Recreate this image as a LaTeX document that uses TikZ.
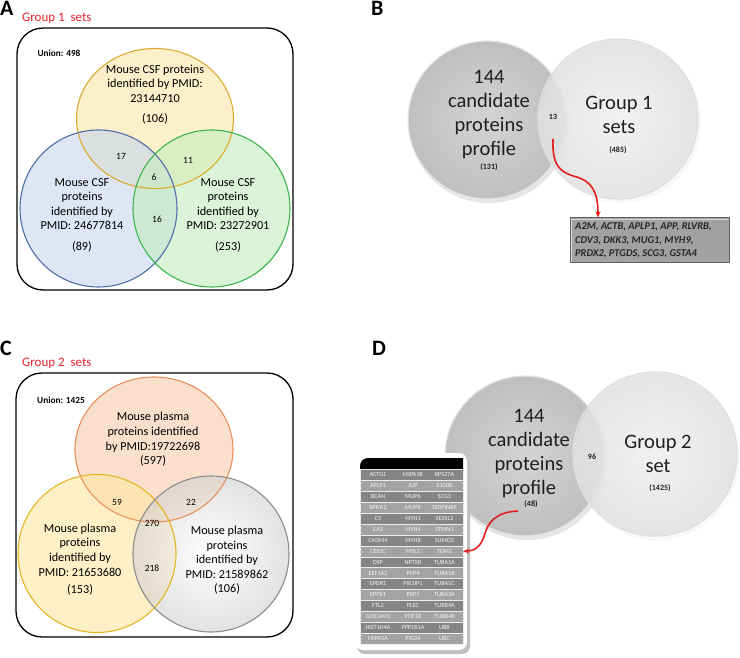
\documentclass[tikz,border=0pt]{standalone}
\usepackage{fontspec}
\setmainfont{Carlito}
\usetikzlibrary{arrows.meta}
\definecolor{lblred}{HTML}{E5222B}
\definecolor{arrred}{HTML}{E0201C}
\definecolor{yelF}{HTML}{FBE6A8}
\definecolor{yelD}{HTML}{DDAA30}
\definecolor{bluF}{HTML}{C8D5EE}
\definecolor{bluD}{HTML}{4F6FA8}
\definecolor{grnF}{HTML}{C3EDBF}
\definecolor{grnD}{HTML}{3BB54A}
\definecolor{orgF}{HTML}{F9CBAD}
\definecolor{orgD}{HTML}{E8905A}
\definecolor{ye2F}{HTML}{FDE7A0}
\definecolor{ye2D}{HTML}{E6B422}
\definecolor{gryF}{HTML}{D0D0D0}
\definecolor{gryD}{HTML}{8C8C8C}
\begin{document}
\begin{tikzpicture}[x=1pt,y=-1pt,
  panel/.style={font=\fontsize{22}{24}\selectfont\bfseries,inner sep=0pt,anchor=base west},
  grplbl/.style={font=\fontsize{13}{15}\selectfont,text=lblred,inner sep=0pt,anchor=base west},
  union/.style={font=\fontsize{9.3}{11}\selectfont\bfseries,inner sep=0pt},
  ctext/.style={align=center,font=\fontsize{12.2}{14.6}\selectfont,inner sep=0pt},
  num/.style={font=\fontsize{9.5}{11}\selectfont,inner sep=0pt},
  big/.style={align=center,font=\fontsize{20.5}{24}\selectfont,inner sep=0pt,text=black!88},
  small/.style={font=\fontsize{8}{9}\selectfont\bfseries,inner sep=0pt,text=black!88},
  frame/.style={draw=black,line width=1.3pt,rounded corners=26pt},
  vfill/.style={fill opacity=0.6},
  vline/.style={line width=1.1pt},
  redarrow/.style={draw=arrred,line width=1.6pt,-{Stealth[length=6pt,width=5pt]}},
  genebox/.style={fill=black!37,draw=black!62,line width=1pt,minimum width=159pt,minimum height=45pt,inner sep=0pt},
  genetext/.style={align=left,font=\fontsize{10.4}{13.4}\selectfont\bfseries\itshape,text=black!85,inner sep=0pt},
  rowbox/.style={minimum width=103pt,minimum height=10.9pt,inner sep=0pt,draw=white!85!gray,line width=0.3pt},
  cell/.style={font=\fontsize{6.2}{7}\selectfont,text=white!92!gray,inner sep=0pt}
]
\useasboundingbox[fill=white] (0,0) rectangle (740,658);

% ---------------- Panel A ----------------
\node[panel] (lblA) at (0,16) {A};
\node[grplbl] (g1) at (22,22) {Group 1\ \ sets};
\draw[frame] (17,28) rectangle (293,290);
\node[union] (unA) at (59,53) {Union: 498};
\fill[yelF,vfill] (155,118.5) ellipse [x radius=78.5pt, y radius=70pt];
\fill[bluF,vfill] (98.5,208.5) circle [radius=78.5pt];
\fill[grnF,vfill] (211.5,208.5) circle [radius=78.5pt];
\draw[yelD,vline] (155,118.5) ellipse [x radius=78.5pt, y radius=70pt];
\draw[bluD,vline] (98.5,208.5) circle [radius=78.5pt];
\draw[grnD,vline] (211.5,208.5) circle [radius=78.5pt];
\node[ctext] (a1) at (155,83.5) {Mouse CSF proteins\\identified by PMID:\\23144710};
\node[ctext] (a1n) at (155,119) {(106)};
\node[ctext] (a2) at (82,204) {Mouse CSF\\proteins\\identified by\\PMID: 24677814};
\node[ctext] (a2n) at (82,247) {(89)};
\node[ctext] (a3) at (228,204) {Mouse CSF\\proteins\\identified by\\PMID: 23272901};
\node[ctext] (a3n) at (228,247) {(253)};
\node[num] (a12) at (121,156) {17};
\node[num] (a13) at (188,160) {11};
\node[num] (a123) at (154,177) {6};
\node[num] (a23) at (157,219) {16};

% ---------------- Panel B ----------------
\node[panel] (lblB) at (371,16) {B};
\fill[black!10] (489,123) circle [radius=80pt];
\shade[inner color=black!17, outer color=black!25] (487,120) circle [radius=79pt];
\draw[white!80!gray,line width=1.2pt] (487,120) circle [radius=79pt];
\fill[black!5,opacity=0.5] (620,122) circle [radius=81pt];
\shade[inner color=black!6, outer color=black!13,opacity=0.72] (618,119) circle [radius=80pt];
\draw[white!75!gray,line width=1.2pt] (618,119) circle [radius=80pt];
\node[big] (b1) at (489,114.5) {144\\candidate\\proteins\\profile};
\node[small] (b1n) at (489,167) {(131)};
\node[big] (b2) at (619,114.5) {Group 1\\sets};
\node[small] (b2n) at (618,150) {(485)};
\node[small] (b12) at (553,117) {13};
\node[genebox] (genes) at (649.5,240.5) {};
\draw[white!70!gray,line width=1pt] (571.5,262) -- (571.5,219.5) -- (728,219.5);
\node[genetext,anchor=west] (genest) at (575,240.5) {A2M, ACTB, APLP1, APP, RLVRB,\\CDV3, DKK3, MUG1, MYH9,\\PRDX2, PTGDS, SCG3, GSTA4};
\coordinate (btail) at (553,139);
\coordinate (btip) at (598,217.5);
\draw[redarrow] (btail) .. controls (552,166) and (560,172) .. (575,176.5) .. controls (592,181) and (598,192) .. (btip);

% ---------------- Panel C ----------------
\node[panel] (lblC) at (0,355) {C};
\node[grplbl] (g2) at (22,366) {Group 2\ \ sets};
\draw[frame] (16,373) rectangle (293,637);
\node[union] (unC) at (61,400) {Union: 1425};
\fill[orgF,vfill] (154,449.5) ellipse [x radius=79pt, y radius=72.5pt];
\fill[ye2F,vfill] (97,553.5) circle [radius=79pt];
\shade[inner color=white, outer color=gryF,fill opacity=0.6,opacity=0.6] (211,554) circle [radius=78pt];
\draw[orgD,vline] (154,449.5) ellipse [x radius=79pt, y radius=72.5pt];
\draw[ye2D,vline] (97,553.5) circle [radius=79pt];
\draw[gryD,vline] (211,554) circle [radius=78pt];
\node[ctext] (c1) at (153,439.5) {Mouse plasma\\proteins identified\\by PMID:19722698\\(597)};
\node[ctext] (c2) at (80,550) {Mouse plasma\\proteins\\identified by\\PMID: 21653680};
\node[ctext] (c2n) at (80,590) {(153)};
\node[ctext] (c3) at (227,552.5) {Mouse plasma\\proteins\\identified by\\PMID: 21589862};
\node[ctext] (c3n) at (227,589) {(106)};
\node[num] (c12) at (117,502) {59};
\node[num] (c13) at (191,502) {22};
\node[num] (c123) at (152,523) {270};
\node[num] (c23) at (152,568) {218};

% ---------------- Panel D ----------------
\node[panel] (lblD) at (372,355) {D};
\fill[black!10] (527,459) circle [radius=81pt];
\shade[inner color=black!17, outer color=black!25] (525,456) circle [radius=80pt];
\draw[white!80!gray,line width=1.2pt] (525,456) circle [radius=80pt];
\fill[black!5,opacity=0.5] (657,457) circle [radius=83pt];
\shade[inner color=black!6, outer color=black!13,opacity=0.72] (655,454) circle [radius=82pt];
\draw[white!75!gray,line width=1.2pt] (655,454) circle [radius=82pt];
\node[big] (d1) at (529,453.5) {144\\candidate\\proteins\\profile};
\node[small] (d1n) at (531,504.5) {(48)};
\node[big] (d2) at (658,454) {Group 2\\set};
\node[small] (d2n) at (660,488) {(1425)};
\node[small] (d12) at (592,457) {96};

% table
\fill[black!25,rounded corners=8pt] (357,456) rectangle (470,654);
\fill[white,rounded corners=8pt] (355,453) rectangle (467,650);
\fill[black] (360,469.5) [rounded corners=8pt] -- (360,458) [sharp corners] -- (463,458) -- (463,469.5) -- cycle;
\foreach \a/\b/\c [count=\i, evaluate=\i as \s using {int(mod(\i,2)==1 ? 48 : 36)}] in
 {ACTG1/HSPA1B/RPS27A, APLP1/JUP/S100B, BCAN/MUP6/SCG3, BPIFA2/MUP8/SERPINB5,
  C5/MYH1/SEZ6L2, CA1/MYH4/STMN1, CADM4/MYH8/SUMO2, CES1C/MYL1/TGM1,
  DSP/NPTXR/TUBA1A, EEF1A2/PCP4/TUBA1B, EPDR1/PIK3IP1/TUBA1C, EPPK1/PKP1/TUBA3A,
  FTL2/PLEC/TUBB4A, GLYCAM1/POF1B/TUBB4B, HIST1H4A/PPP1R1A/UBB, HSPA1A/PYGM/UBC}
{
  \node[rowbox,fill=black!\s] (row\i) at (411.5,{469.5+(\i-0.5)*10.9}) {};
  \node[cell] (r\i a) at (378,{469.5+(\i-0.5)*10.9}) {\a};
  \node[cell] (r\i b) at (413,{469.5+(\i-0.5)*10.9}) {\b};
  \node[cell] (r\i c) at (444.5,{469.5+(\i-0.5)*10.9}) {\c};
}
\coordinate (dtail) at (518,511);
\draw[redarrow] (dtail) .. controls (496,512) and (488,522) .. (484.5,535) .. controls (481,547) and (474,551) .. (row8.east);
\end{tikzpicture}
\end{document}
